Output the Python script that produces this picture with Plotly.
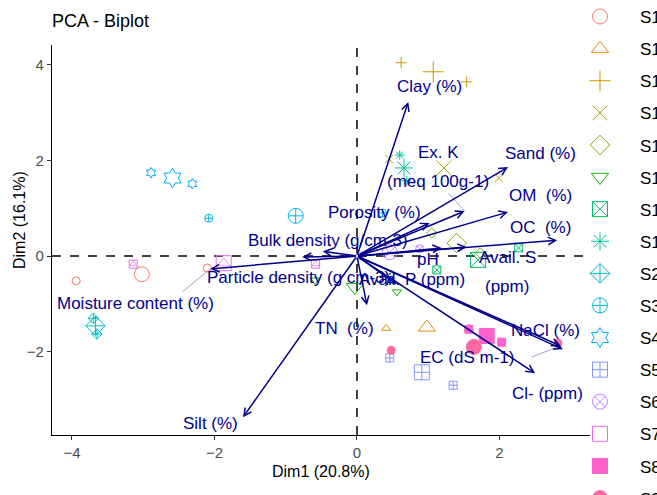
import math
import plotly.graph_objects as go

# ---------------- data ----------------
groups = ["S1", "S10", "S11", "S12", "S13", "S14", "S15", "S16",
          "S2", "S3", "S4", "S5", "S6", "S7", "S8", "S9"]
symbols = ["circle-open", "triangle-up-open", "cross-thin-open", "x-thin-open",
           "diamond-open", "triangle-down-open", "square-x-open", "asterisk-open",
           "diamond-cross-open", "circle-cross-open", "hexagram-open", "square-cross-open",
           "circle-x-open", "square-open", "square", "circle"]
inner_symbols = [None, None, None, None, None, None, None, None,
                 None, None, None, None, None, "triangle-up-open", None, None]

ind_x = [[-3.94, -2.10], [0.41, 1.57], [0.62, 1.54], [0.45, 1.99], [1.05, 1.73],
         [-0.59, 0.56], [1.12, 2.27], [0.60, 0.70], [-3.70, -3.65], [-2.08, 0.36],
         [-2.89, -2.31], [0.46, 1.35], [0.04, 0.88], [-3.14, -0.58], [1.57, 2.03],
         [0.48, 2.82]]
ind_y = [[-0.52, -0.25], [-1.51, -1.51], [4.04, 3.64], [2.03, 1.63], [0.48, 0.06],
         [-0.50, -0.75], [-0.29, 0.17], [2.11, 1.57], [-1.30, -1.63], [0.79, 0.90],
         [1.74, 1.51], [-2.13, -2.70], [0.00, 0.15], [-0.17, -0.17], [-1.53, -1.80],
         [-1.97, -1.82]]
mean_x = [-3.02, 0.98, 1.07, 1.22, 1.40, -0.03, 1.70, 0.66, -3.67, -0.86,
          -2.59, 0.91, 0.46, -1.87, 1.82, 1.64]
mean_y = [-0.38, -1.49, 3.85, 1.84, 0.27, -0.65, -0.08, 1.84, -1.46, 0.84,
          1.63, -2.43, 0.08, -0.15, -1.67, -1.90]

var_names = ["Clay (%)", "Sand (%)", "Ex. K\n(meq 100g-1)", "OM\u00a0 (%)", "OC\u00a0 (%)",
             "Porosity (%)", "pH", "Avail. S\n(ppm)", "NaCl (%)", "EC (dS m-1)",
             "Cl- (ppm)", "Avail. P (ppm)", "TN\u00a0 (%)", "Silt (%)",
             "Moisture content (%)", "Particle density (g cm-3)", "Bulk density (g/cm-3)"]
var_x = [0.72, 2.12, 1.51, 2.12, 2.81, 1.02, 1.19, 1.54, 2.89, 2.86, 2.50, 0.56,
         0.14, -1.60, -2.06, -0.77, -0.48]
var_y = [3.22, 1.86, 0.94, 0.92, 0.33, 0.69, 0.17, 0.19, -1.95, -1.88, -2.45, -0.59,
         -1.03, -3.37, -0.27, -0.02, 0.10]
lab_x = [1.02, 2.57, 1.14, 2.57, 2.57, 0.25, 1.00, 2.11, 2.64, 1.54, 2.68, 0.77,
         -0.17, -2.06, -3.11, -0.82, -0.40]
lab_y = [3.54, 2.15, 1.86, 1.26, 0.59, 0.92, -0.08, -0.33, -1.55, -2.11, -2.87, -0.48,
         -1.51, -3.51, -1.00, -0.44, 0.33]

# repel segments: variable index, label-side start point
seg_var = [2, 9, 14]
seg_x0 = [1.28, 2.45, -2.45]
seg_y0 = [1.32, -2.11, -0.75]

x_ticks = [-4, -2, 0, 2]
y_ticks = [-2, 0, 2, 4]


# ggplot2 hue palette
def hcl_hex(h, c=100.0, l=65.0):
    hr = math.radians(h)
    U, V = c * math.cos(hr), c * math.sin(hr)
    Y = ((l + 16) / 116) ** 3
    xn, yn, zn = 0.95047, 1.0, 1.08883
    un = 4 * xn / (xn + 15 * yn + 3 * zn)
    vn = 9 * yn / (xn + 15 * yn + 3 * zn)
    u = U / (13 * l) + un
    v = V / (13 * l) + vn
    X = 9.0 * Y * u / (4 * v)
    Z = -X / 3 - 5 * Y + 3 * Y / v
    r = 3.240479 * X - 1.537150 * Y - 0.498535 * Z
    g = -0.969256 * X + 1.875992 * Y + 0.041556 * Z
    b = 0.055648 * X - 0.204043 * Y + 1.057311 * Z

    def gam(t):
        t = 1.055 * t ** (1 / 2.4) - 0.055 if t > 0.0031308 else 12.92 * t
        return int(round(max(0, min(1, t)) * 255))
    return "#%02X%02X%02X" % (gam(r), gam(g), gam(b))


n = len(groups)
colors = [hcl_hex(15 + 360 * i / n) for i in range(n)]

fig = go.Figure()
for i, g in enumerate(groups):
    fig.add_trace(go.Scatter(
        x=ind_x[i], y=ind_y[i], mode="markers", legendgroup=g, showlegend=False,
        marker=dict(symbol=symbols[i], size=8, color=colors[i], line=dict(width=1, color=colors[i])),
        hoverinfo="skip"))
    fig.add_trace(go.Scatter(
        x=[mean_x[i]], y=[mean_y[i]], mode="markers", name=g, legendgroup=g,
        marker=dict(symbol=symbols[i], size=15, color=colors[i], line=dict(width=1, color=colors[i]))))
    if inner_symbols[i]:
        fig.add_trace(go.Scatter(
            x=ind_x[i] + [mean_x[i]], y=ind_y[i] + [mean_y[i]], mode="markers",
            legendgroup=g, showlegend=False, hoverinfo="skip",
            marker=dict(symbol=inner_symbols[i], size=[6, 6, 11], color=colors[i],
                        line=dict(width=1, color=colors[i]))))

navy = "#00008B"
ann = []
for i, nm in enumerate(var_names):
    ann.append(dict(x=var_x[i], y=var_y[i], ax=0, ay=0, xref="x", yref="y", axref="x", ayref="y",
                    text="", showarrow=True, arrowhead=5, arrowsize=1, arrowwidth=1.5,
                    arrowcolor=navy, standoff=0))
for k, vi in enumerate(seg_var):
    fig.add_trace(go.Scatter(x=[seg_x0[k], var_x[vi]], y=[seg_y0[k], var_y[vi]], mode="lines",
                             line=dict(color="rgba(60,60,160,0.6)", width=0.8),
                             showlegend=False, hoverinfo="skip"))
for i, nm in enumerate(var_names):
    lines = nm.split("\n")
    for j, ln in enumerate(lines):
        ann.append(dict(x=lab_x[i], y=lab_y[i], xref="x", yref="y", text=ln, showarrow=False,
                        yshift=((len(lines) - 1) / 2 - j) * 29,
                        font=dict(family="Liberation Sans, Arial", size=17, color=navy)))

L, R, T, B = 52, 67, 45, 60
W, H = 657, 495
pw, ph = W - L - R, H - T - B
ann.append(dict(text="Dim1 (20.8%)", xref="paper", yref="paper", x=0.5, y=-(471 - (H - B)) / ph,
                xanchor="center", yanchor="middle", showarrow=False,
                font=dict(family="Liberation Sans, Arial", size=16, color="black")))
ann.append(dict(text="Dim2 (16.1%)", xref="paper", yref="paper", x=-(L - 20) / pw,
                y=((H - B) - 220) / ph, textangle=-90, xanchor="center", yanchor="middle",
                showarrow=False,
                font=dict(family="Liberation Sans, Arial", size=16, color="black")))

fig.update_layout(
    width=W, height=H,
    margin=dict(l=L, r=R, t=T, b=B, autoexpand=False),
    paper_bgcolor="white", plot_bgcolor="white",
    title=dict(text="PCA - Biplot", x=L / W, xanchor="left", xref="container",
               y=1 - 21 / H, yanchor="middle", yref="container",
               font=dict(family="Liberation Sans, Arial", size=18, color="black")),
    xaxis=dict(range=[-4.28, 3.27], tickvals=x_ticks, showgrid=False, zeroline=False,
               showline=True, linecolor="black", linewidth=1.3, ticks="outside", ticklen=4,
               tickcolor="#333333", tickfont=dict(family="Liberation Sans, Arial", size=15, color="#4D4D4D")),
    yaxis=dict(range=[-3.74, 4.41], tickvals=y_ticks, showgrid=False, zeroline=False,
               showline=True, linecolor="black", linewidth=1.3, ticks="outside", ticklen=4,
               tickcolor="#333333", tickfont=dict(family="Liberation Sans, Arial", size=15, color="#4D4D4D")),
    shapes=[
        dict(type="line", xref="x", yref="paper", x0=0, x1=0, y0=0, y1=1, layer="below",
             line=dict(color="black", width=1.5, dash="dash")),
        dict(type="line", xref="paper", yref="y", x0=0, x1=1, y0=0, y1=0, layer="below",
             line=dict(color="black", width=1.5, dash="dash")),
    ],
    annotations=ann,
    legend=dict(x=(560 - L) / pw, xanchor="left", y=((H - B) + 1) / ph, yanchor="top",
                bgcolor="rgba(0,0,0,0)", itemwidth=70, tracegroupgap=7, maxheight=700,
                font=dict(family="Liberation Sans, Arial", size=17, color="black")),
    showlegend=True,
)

fig.write_html("out.html")
